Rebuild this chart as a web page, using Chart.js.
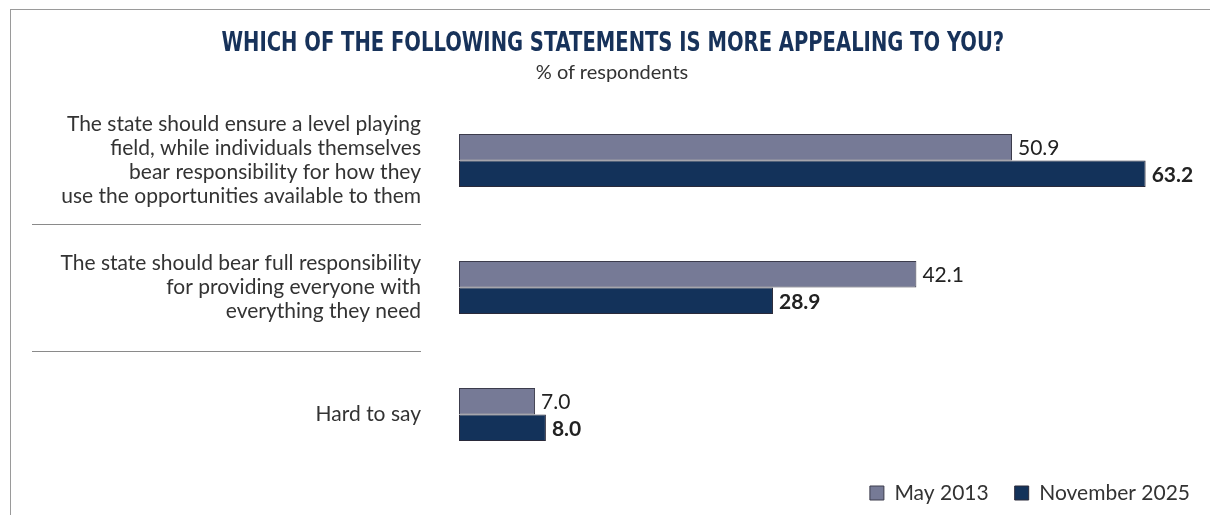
<!DOCTYPE html>
<html><head><meta charset="utf-8">
<script src="https://cdn.jsdelivr.net/npm/chart.js@4/dist/chart.umd.min.js"></script>
<style>
html,body{margin:0;padding:0;background:#fff;}
#wrap{position:relative;width:1210px;height:515px;overflow:hidden;}
#frame{position:absolute;left:10px;top:9px;width:1200px;height:506px;border-top:1px solid #9a9a9a;border-left:1px solid #9a9a9a;box-sizing:border-box;}
canvas{position:absolute;left:0;top:0;}
#title{position:absolute;left:0;top:27px;width:1226px;text-align:center;white-space:nowrap;z-index:2;}
#title span{display:inline-block;font-family:'DejaVu Sans Condensed','DejaVu Sans',sans-serif;font-weight:bold;font-size:26px;color:#17325a;transform-origin:50% 50%;}
#sub{position:absolute;left:0;top:59px;width:1224px;text-align:center;font-family:Lato,sans-serif;font-size:20px;color:#333;z-index:2;}
</style></head>
<body><div id="wrap"><div id="frame"></div><canvas id="c" width="1210" height="515"></canvas>
<div id="title"><span id="tspan">WHICH OF THE FOLLOWING STATEMENTS IS MORE APPEALING TO YOU?</span></div>
<div id="sub">% of respondents</div></div>
<script>
const categories = [
  ["The state should ensure a level playing","field, while individuals themselves","bear responsibility for how they","use the opportunities available to them"],
  ["The state should bear full responsibility","for providing everyone with","everything they need"],
  ["Hard to say"]
];
const seriesNames = ["May 2013", "November 2025"];
const may2013 = [50.9, 42.1, 7.0];
const nov2025 = [63.2, 28.9, 8.0];

const tspan = document.getElementById('tspan');
tspan.style.transform = 'scaleX(' + (783 / tspan.offsetWidth) + ')';

const labelFont = "Lato, 'Open Sans', sans-serif";

const valueLabels = {
  id: 'valueLabels',
  afterDatasetsDraw(chart) {
    const ctx = chart.ctx;
    ctx.save();
    chart.data.datasets.forEach((ds, di) => {
      const meta = chart.getDatasetMeta(di);
      meta.data.forEach((el, i) => {
        ctx.fillStyle = '#222';
        ctx.font = (di === 1 ? 'bold ' : '') + '21px ' + labelFont;
        ctx.textAlign = 'left';
        ctx.textBaseline = 'middle';
        ctx.fillText(ds.data[i].toFixed(1), el.x + 6, el.y + 1);
      });
    });
    ctx.restore();
  }
};

const separators = {
  id: 'separators',
  afterDraw(chart) {
    const y = chart.scales.y;
    const ctx = chart.ctx;
    ctx.save();
    ctx.strokeStyle = '#8a8a8a';
    ctx.lineWidth = 1;
    for (let i = 0; i < categories.length - 1; i++) {
      const py = Math.round((y.getPixelForValue(i) + y.getPixelForValue(i + 1)) / 2) + 0.5;
      ctx.beginPath();
      ctx.moveTo(32, py);
      ctx.lineTo(421, py);
      ctx.stroke();
    }
    ctx.restore();
  }
};

const legendShift = {
  id: 'legendShift',
  afterLayout(chart) {
    const lg = chart.legend;
    if (!lg) return;
    lg.top = 493 - 26 - 10.5;
    lg.bottom = 515;
    lg.left += 28;
    lg.right += 28;
  }
};

new Chart(document.getElementById('c'), {
  type: 'bar',
  data: {
    labels: categories,
    datasets: [
      { label: seriesNames[0], data: may2013, backgroundColor: '#767a96', borderColor: '#3c3c4c', borderWidth: 1, borderSkipped: false },
      { label: seriesNames[1], data: nov2025, backgroundColor: '#13325a', borderColor: '#2a2a3a', borderWidth: 1, borderSkipped: false }
    ]
  },
  options: {
    indexAxis: 'y',
    responsive: false,
    animation: false,
    devicePixelRatio: 1,
    layout: { padding: { left: 10, right: 22, top: 97, bottom: 0 } },
    datasets: { bar: { categoryPercentage: 0.417, barPercentage: 1.0 } },
    scales: {
      x: { display: false, min: 0, max: 67.1 },
      y: {
        grid: { display: false, drawTicks: false },
        border: { display: false },
        ticks: { color: '#333', font: { family: labelFont, size: 21, lineHeight: 1.143 }, padding: 38, crossAlign: 'near' },
        afterFit(axis) { axis.width = 449; axis.paddingTop = 0; axis.paddingBottom = 0; }
      }
    },
    plugins: {
      tooltip: { enabled: false },
      legend: { position: 'bottom', align: 'end', maxHeight: 37,
        labels: { color: '#333', font: { family: labelFont, size: 21 }, boxWidth: 14, boxHeight: 14, padding: 26 } }
    }
  },
  plugins: [valueLabels, separators, legendShift]
});
</script></body></html>
